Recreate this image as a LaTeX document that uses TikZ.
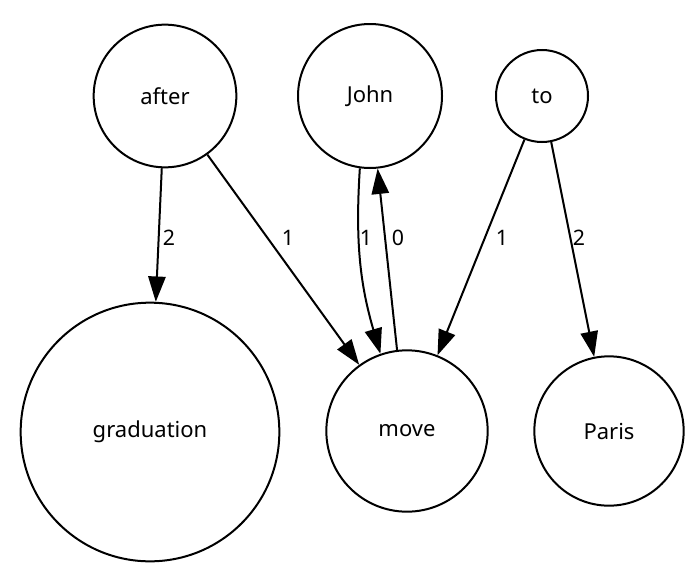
\documentclass[tikz,border=0pt]{standalone}
\usepackage{fontspec}
\setmainfont{Noto Sans}
\usetikzlibrary{arrows.meta}
\begin{document}
\begin{tikzpicture}[x=0.75pt, y=-0.75pt, line width=1.5pt,
          token/.style={circle, draw, inner sep=0pt, font=\fontsize{16.5}{19}\selectfont},
          rel/.style={-{Triangle[length=19pt, width=13pt]}},
          num/.style={font=\fontsize{16}{19}\selectfont, inner sep=1pt}]
          \useasboundingbox (0,0) rectangle (691,571);
          \foreach \w/\x/\y/\d in {after/165/96/107, John/370/96/108, to/542/96/69,
                graduation/150/432/194, move/407/431/121, Paris/609/431/112}{
              \node[token, minimum size=\d pt] (\w) at (\x,\y) {\w};
          }
          \draw[rel] (after) -- (graduation);
          \draw[rel] (after) -- (move);
          \draw[rel] (John.-98) to[bend right=10] (move.109);
          \draw[rel] (move.97) -- (John.-84);
          \draw[rel] (to) -- (move);
          \draw[rel] (to) -- (Paris);
          \node[num] (l1) at (169,238) {2};
          \node[num] (l2) at (288,238) {1};
          \node[num] (l3) at (366,238) {1};
          \node[num] (l4) at (398,238) {0};
          \node[num] (l5) at (502,238) {1};
          \node[num] (l6) at (579,238) {2};
      \end{tikzpicture}
\end{document}
